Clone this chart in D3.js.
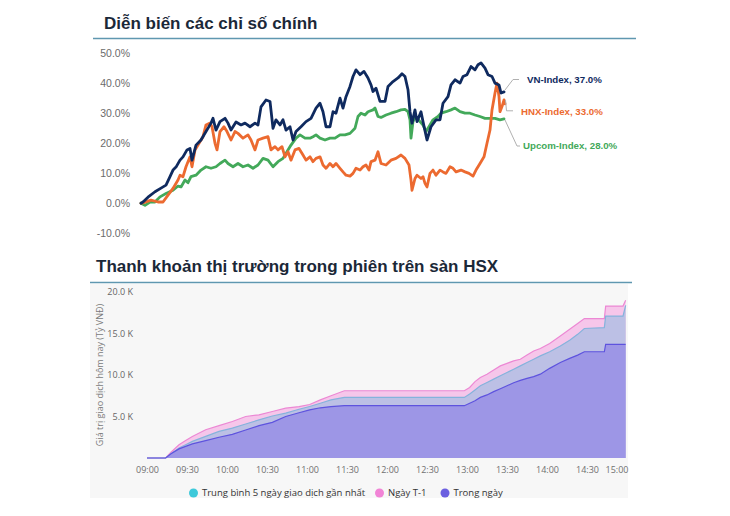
<!DOCTYPE html>
<html><head><meta charset="utf-8">
<script src="https://cdn.jsdelivr.net/npm/d3@7"></script>
<style>body{margin:0;background:#fff}svg{display:block}</style>
</head><body><svg id="c" width="730" height="516"></svg>
<script>
// ---------- DATA: top chart (cumulative % change, trading-day index) ----------
const pctTicks = [-10, 0, 10, 20, 30, 40, 50];
const vnIndex = [[0,0],[2,0.4],[7,2],[14,3.8],[20,5],[25,6],[29,8.8],[32,11],[35,12],[39,14.3],[42,15.4],[46,17.7],[49,18.2],[51,14.3],[55,19.3],[60,21],[65,23.8],[70,26.6],[72,28.2],[75,24.3],[79,27.1],[84,28.2],[87,26.6],[90,24.3],[95,27],[100,26],[104,26.6],[109,25.4],[114,26.6],[117,26],[120,32],[125,34.3],[129,33.8],[132,24.9],[135,27.7],[139,26],[142,27.7],[145,24.3],[149,25.4],[152,21],[155,23.8],[160,25.4],[165,27.1],[170,28.2],[175,31.6],[179,33.2],[182,30.4],[185,25.4],[189,25.4],[192,30.4],[195,29.9],[199,34.9],[202,31.6],[205,35.4],[209,38.8],[212,42.1],[215,44.3],[219,42.7],[223,43.8],[227,41.6],[230,39.3],[232,37.1],[235,38.2],[239,33.8],[244,33.8],[247,38.8],[252,40.4],[257,41.6],[261,43],[264,42.1],[267,37.7],[269,30.4],[271,26.6],[274,31],[276,27.1],[280,30.4],[282,27.1],[286,21],[290,25.4],[295,27.7],[299,27.7],[302,33.2],[307,35.4],[310,39.3],[314,41],[319,39.9],[322,42.1],[326,42.7],[330,45.4],[334,44.3],[337,46],[340,46.6],[344,44.9],[347,42.7],[351,42.1],[354,39.9],[358,39.3],[360,36.6],[363,37]];
const hnxIndex = [[0,0],[2,0.1],[10,1],[17,0.4],[22,0.4],[27,2.7],[32,4.9],[37,7.7],[39,9.3],[42,8.8],[45,12.1],[49,15.4],[51,12.1],[54,17.7],[57,19.3],[62,22.1],[65,26],[69,26.6],[71,25.4],[74,19.9],[76,17.7],[79,23.8],[83,25.4],[86,23.8],[90,21],[94,23.8],[97,23.2],[102,21.6],[107,22.7],[110,21],[114,17.7],[117,21],[122,21.6],[127,22.1],[130,17.7],[134,18.8],[137,17.7],[141,18.8],[144,15.4],[147,17.1],[150,14.3],[154,17.7],[158,18.2],[162,16],[165,14.3],[169,15.4],[172,13.8],[175,14.9],[179,15.4],[182,12.7],[185,11.6],[189,13.2],[192,12.1],[195,13.2],[199,11.6],[202,10.4],[205,9.3],[209,9],[212,9.9],[215,11.6],[219,11],[222,12.1],[225,12.7],[228,11],[230,13.8],[234,14.3],[237,17.1],[240,13.2],[245,12.7],[250,14.3],[255,14.9],[260,16],[264,14.9],[268,12.7],[270,7.7],[271,4.3],[274,8.2],[276,9.3],[280,8.2],[282,8.8],[284,6.6],[286,5.4],[289,9.9],[292,11],[295,9.3],[299,11],[302,10.4],[305,9.9],[309,12.1],[312,11.6],[315,10.4],[320,11],[324,10.4],[328,9.9],[332,9],[335,11],[339,13.2],[343,15.4],[346,19.9],[349,24.3],[351,31],[354,36.6],[356,39.9],[358,35.4],[359,30.4],[361,32.1],[363,34.3],[364,33]];
const upcomIndex = [[0,0],[4,-0.7],[9,0.4],[14,0.4],[19,2.1],[25,3.2],[32,4.3],[37,5.7],[40,5.4],[44,7.7],[47,6.8],[50,8.8],[55,9.3],[60,11],[65,12.1],[70,11.6],[75,12.1],[79,13.2],[84,14.3],[87,13.2],[92,12.1],[97,13.2],[102,12.1],[107,12.7],[112,11.6],[117,12.7],[122,14.9],[127,14.3],[132,12.1],[137,13.8],[142,14.9],[147,17.7],[150,19.3],[155,21.6],[159,22.7],[164,21.6],[169,21.6],[172,22.1],[175,22.7],[179,21.6],[184,21],[189,21.6],[194,21.6],[199,22.7],[204,22.7],[209,23.2],[214,24.9],[217,28.8],[220,29.9],[224,29.3],[227,30.4],[232,31],[234,31.6],[237,28.8],[240,28.5],[245,29.3],[250,29.9],[255,30.4],[260,31],[264,31.2],[267,30.4],[269,27.7],[270,21.6],[272,27.1],[275,28.8],[279,27.1],[282,26],[285,23.8],[289,26],[292,27.7],[297,28.8],[300,29.9],[305,30.4],[310,31],[314,31.6],[319,30.4],[324,29.9],[329,29.9],[334,29.3],[339,28.8],[344,28.2],[349,28.2],[354,28.2],[359,27.7],[363,28]];
const indexNames = ["VN-Index", "HNX-Index", "Upcom-Index"];
const indexLast = [37.0, 33.0, 28.0];

// ---------- DATA: bottom chart (HSX cumulative trading value, thousand bn VND) ----------
const times = ["09:00","09:14","09:18","09:24","09:29","09:34","09:44","09:54","10:04","10:14","10:24","10:34","10:44","10:54","11:02","11:10","11:18","11:28","12:58","13:02","13:06","13:10","13:15","13:20","13:25","13:30","13:35","13:40","13:45","13:50","13:55","14:02","14:10","14:17","14:23","14:28","14:43","14:44","14:57","14:59"];
const prevDay = [0,0,0.7,1.6,2.1,2.6,3.4,3.9,4.4,5.0,5.2,5.6,6.0,6.2,6.45,7.0,7.5,8.1,8.1,8.5,9.2,9.7,10.1,10.6,11.1,11.4,11.7,11.9,12.4,12.9,13.2,13.8,14.7,15.5,16.2,16.8,16.8,18.3,18.3,19.0];
const avg5Days = [0,0,0.5,1.2,1.6,2.0,2.6,3.2,3.6,4.1,4.6,5.06,5.4,5.87,6.2,6.6,7.0,7.3,7.3,7.7,8.2,8.7,9.1,9.5,9.9,10.3,10.7,11.1,11.5,11.9,12.3,12.8,13.5,14.2,14.9,15.6,15.7,17.1,17.1,18.4];
const todayVal = [0,0,0.5,1.1,1.4,1.7,2.1,2.5,2.85,3.37,3.9,4.3,5.0,5.45,5.8,6.05,6.2,6.3,6.3,6.6,6.9,7.3,7.6,8.0,8.35,8.7,9.07,9.35,9.6,9.8,10.1,10.8,11.5,12.0,12.4,12.8,12.8,13.7,13.7,13.7];
const timeTicks = ["09:00","09:30","10:00","10:30","11:00","11:30","12:00","12:30","13:00","13:30","14:00","14:30","15:00"];
const kTicks = [5, 10, 15, 20];
const legendNames = ["Trung bình 5 ngày giao dịch gần nhất", "Ngày T-1", "Trong ngày"];

// ---------- DRAW ----------
const svg = d3.select("#c");
const FONT = "'Liberation Sans', Arial, sans-serif";
const FONT2 = "'Open Sans', 'DejaVu Sans', sans-serif";
svg.append("rect").attr("width",730).attr("height",516).attr("fill","#fff");

// ===== Top chart =====
svg.append("text").attr("x",104).attr("y",29).text("Diễn biến các chỉ số chính")
  .attr("font-family",FONT).attr("font-weight","bold").attr("font-size",17).attr("fill","#1b2838");
svg.append("line").attr("x1",93).attr("x2",636).attr("y1",38.5).attr("y2",38.5)
  .attr("stroke","#5f97b0").attr("stroke-width",1.3);

const xT = d3.scaleLinear().domain([0,363]).range([141,504]);
const yT = d3.scaleLinear().domain([-10,50]).range([233.3,52.7]);

const yAxT = svg.append("g").attr("transform","translate(130,0)")
  .call(d3.axisLeft(yT).tickValues(pctTicks).tickFormat(d => d.toFixed(1)+"%").tickSize(0).tickPadding(0));
yAxT.select(".domain").remove();
yAxT.selectAll("text").attr("font-family",FONT).attr("font-size",10.5).attr("fill","#6b6b6b");

const topSeries = [
  {data: upcomIndex, color:"#43a95a"},
  {data: hnxIndex, color:"#ec6a30"},
  {data: vnIndex, color:"#0f2a5f"}
];
const lineT = d3.line().x(d=>xT(d[0])).y(d=>yT(d[1]));
topSeries.forEach(s => {
  svg.append("path").datum(s.data).attr("d",lineT).attr("fill","none")
    .attr("stroke",s.color).attr("stroke-width",2.8).attr("stroke-linejoin","round").attr("stroke-linecap","round");
});

// labels with leader lines
const labelCfg = [
  {i:0, color:"#0f2a5f", tx:527, ty:80, pts:[[505,90],[513,79.5],[519,79.5]]},
  {i:1, color:"#ec6a30", tx:521, ty:111.5, pts:[[505.5,100],[506.5,110.8],[513,110.8]]},
  {i:2, color:"#43a95a", tx:523, ty:146, pts:[[505,120],[517,146],[520,146]]}
];
labelCfg.forEach(c => {
  svg.append("path").attr("d",d3.line()(c.pts)).attr("fill","none").attr("stroke","#b0b0b0").attr("stroke-width",1);
  svg.append("text").attr("x",c.tx).attr("y",c.ty).attr("dy","0.35em")
    .text(indexNames[c.i]+", "+indexLast[c.i].toFixed(1)+"%")
    .attr("font-family",FONT).attr("font-weight","bold").attr("font-size",9.7).attr("fill",c.color);
});

// ===== Bottom chart =====
svg.append("text").attr("x",96).attr("y",272).text("Thanh khoản thị trường trong phiên trên sàn HSX")
  .attr("font-family",FONT).attr("font-weight","bold").attr("font-size",17).attr("fill","#1b2838");
svg.append("line").attr("x1",90).attr("x2",632).attr("y1",282.5).attr("y2",282.5)
  .attr("stroke","#5f97b0").attr("stroke-width",1.3);
svg.append("rect").attr("x",90).attr("y",284).attr("width",538).attr("height",214).attr("fill","#f7f7f7");

const parseT = d3.timeParse("%H:%M");
const xB = d3.scaleTime().domain([parseT("09:00"), parseT("15:00")]).range([147,627]);
const yB = d3.scaleLinear().domain([0,20]).range([458,292]);

const tParsed = times.map(parseT);
const mk = vals => vals.map((v,i)=>({t:tParsed[i], v}));
const areaB = d3.area().x(d=>xB(d.t)).y0(yB(0)).y1(d=>yB(d.v));
const lineB = d3.line().x(d=>xB(d.t)).y(d=>yB(d.v));
const botSeries = [
  {vals: prevDay, fill:"#f6c6ea", stroke:"#ec88d4"},
  {vals: avg5Days, fill:"#bcc0e5", stroke:"#85b3dc"},
  {vals: todayVal, fill:"#9d96e6", stroke:"#5e53de"}
];
botSeries.forEach(s => {
  const d = mk(s.vals);
  svg.append("path").datum(d).attr("d",areaB).attr("fill",s.fill);
  svg.append("path").datum(d).attr("d",lineB).attr("fill","none").attr("stroke",s.stroke).attr("stroke-width",1.2);
});

const yAxB = svg.append("g").attr("transform","translate(133,0)")
  .call(d3.axisLeft(yB).tickValues(kTicks).tickFormat(d=>d.toFixed(1)+" K").tickSize(0).tickPadding(0));
yAxB.select(".domain").remove();
yAxB.selectAll("text").attr("font-family",FONT2).attr("font-size",9).attr("fill","#666");

const xAxB = svg.append("g").attr("transform","translate(0,458)")
  .call(d3.axisBottom(xB).tickValues(timeTicks.map(parseT)).tickFormat(d3.timeFormat("%H:%M")).tickSize(0).tickPadding(9));
xAxB.select(".domain").remove();
xAxB.selectAll("text").attr("font-family",FONT2).attr("font-size",9).attr("fill","#707070");
const tickTexts = xAxB.selectAll(".tick text").nodes();
d3.select(tickTexts[tickTexts.length-1]).attr("text-anchor","end").attr("x",1);

svg.append("text").attr("transform","translate(103,375) rotate(-90)").attr("text-anchor","middle")
  .text("Giá trị giao dịch hôm nay (Tỷ VNĐ)")
  .attr("font-family",FONT2).attr("font-size",9).attr("fill","#7a7a7a");

// legend
const legColors = ["#3dc9da","#f184d6","#6b5fe0"];
const legX = [193.5, 379.5, 445];
legendNames.forEach((n,i)=>{
  svg.append("circle").attr("cx",legX[i]).attr("cy",493).attr("r",4.5).attr("fill",legColors[i]);
  svg.append("text").attr("x",legX[i]+8.5).attr("y",493).attr("dy","0.35em").text(n)
    .attr("font-family",FONT2).attr("font-size",9.5).attr("fill","#333");
});
</script></body></html>
